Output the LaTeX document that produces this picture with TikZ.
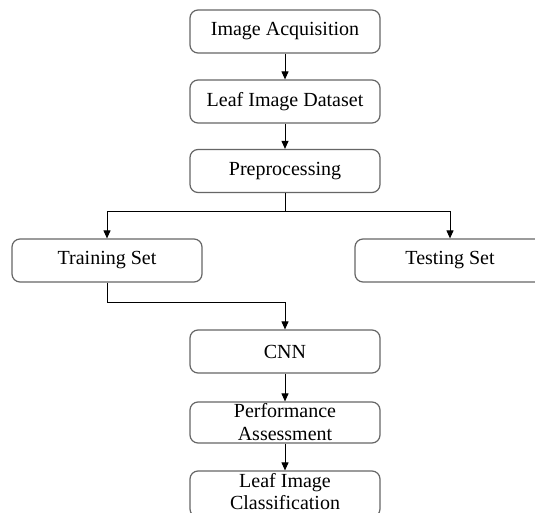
\documentclass[tikz,border=0pt]{standalone}
\usepackage{fontspec}
\setmainfont{Liberation Serif}
\usetikzlibrary{arrows.meta}
\begin{document}
\begin{tikzpicture}[x=1pt,y=1pt,
  stagebox/.style={draw=black!60, line width=1.2pt, rounded corners=8pt,
    minimum width=190pt, minimum height=43pt, inner sep=0pt, align=center,
    font=\fontsize{20}{23}\selectfont, text=black},
  flow/.style={draw=black, line width=1pt, -{Triangle[length=8pt,width=7pt]}},
  plain/.style={draw=black, line width=1pt}]
\clip (0,0) rectangle (535,512);
\fill[white] (0,0) rectangle (535,512);
\node[stagebox] (acq) at (285,480.5) {Image Acquisition};
\node[stagebox] (dataset) at (285,410.5) {Leaf Image Dataset};
\node[stagebox] (prep) at (285,341) {Preprocessing};
\node[stagebox] (train) at (107,251.5) {Training Set};
\node[stagebox] (test) at (450,251.5) {Testing Set};
\node[stagebox] (cnn) at (285,160.5) {CNN};
\node[stagebox, minimum height=41pt] (perf) at (285,89.5) {Performance\\Assessment};
\node[stagebox, minimum height=46pt, text depth=0pt] (cls) at (285,18) {};
\node[font=\fontsize{20}{22}\selectfont, align=center, inner sep=0pt, anchor=south] (clstext) at (285,2) {Leaf Image\\Classification};
\coordinate (split) at (285,300);
\coordinate (join) at (107,209.5);
\draw[flow] (acq) -- (dataset);
\draw[flow] (dataset) -- (prep);
\draw[plain] (prep) -- (split);
\draw[flow] (split) -| (train.north);
\draw[flow] (split) -| (test.north);
\draw[flow] (train.south) -- (join) -| (cnn.north);
\draw[flow] (cnn) -- (perf);
\draw[flow] (perf) -- (cls.north);
\end{tikzpicture}
\end{document}
